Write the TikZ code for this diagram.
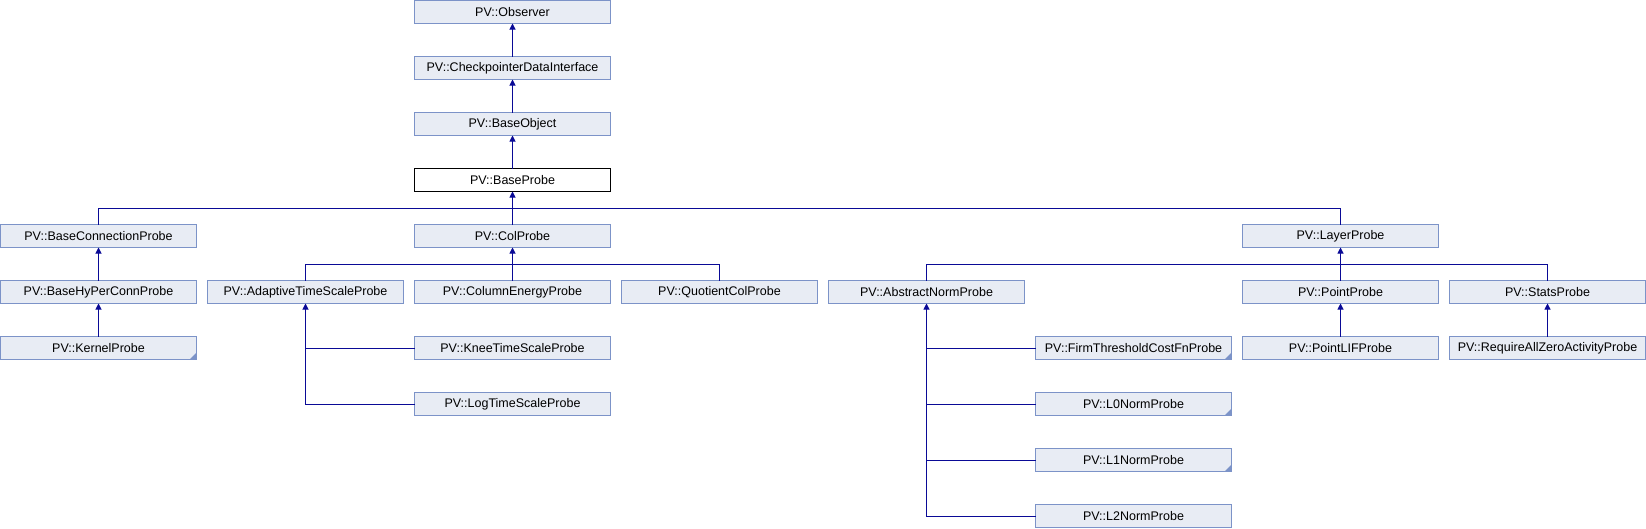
\documentclass[tikz,border=0pt]{standalone}
\usepackage{fontspec}
\setmainfont{Liberation Sans}
\usetikzlibrary{arrows.meta}
\definecolor{boxfill}{HTML}{E8ECF4}
\definecolor{boxline}{HTML}{7C93C8}
\definecolor{edgec}{HTML}{0A0A96}
\tikzset{
  cls/.style={draw=boxline, fill=boxfill, line width=1pt, minimum width=196pt, minimum height=23pt, inner sep=0pt, outer sep=0pt, font=\fontsize{12.5}{14}\selectfont, anchor=north west},
  cur/.style={cls, draw=black, fill=white},
  edge/.style={draw=edgec, line width=1pt},
  inh/.style={edge, -{Triangle[length=6pt,width=6pt]}},
  corner/.style={fill=boxline},
}
\newcommand{\mkcorner}[1]{\fill[corner] (#1.south east) -- ++(-7,0) -- ++(7,-7) -- cycle;}
\begin{document}
\begin{tikzpicture}[x=1pt,y=-1pt]
\useasboundingbox (0,0) rectangle (1646,528);
% rows: top = 56r+0.5 ; cols: left = 207c+0.5
\node[cls] (obs) at (414.5,0.5) {PV::Observer};
\node[cls] (cdi) at (414.5,56.5) {PV::CheckpointerDataInterface};
\node[cls] (bo)  at (414.5,112.5) {PV::BaseObject};
\node[cur] (bp)  at (414.5,168.5) {PV::BaseProbe};
\node[cls] (bcp) at (0.5,224.5) {PV::BaseConnectionProbe};
\node[cls] (colp) at (414.5,224.5) {PV::ColProbe};
\node[cls] (lp) at (1242.5,224.5) {PV::LayerProbe};
\node[cls] (bhp) at (0.5,280.5) {PV::BaseHyPerConnProbe};
\node[cls] (ats) at (207.5,280.5) {PV::AdaptiveTimeScaleProbe};
\node[cls] (cep) at (414.5,280.5) {PV::ColumnEnergyProbe};
\node[cls] (qcp) at (621.5,280.5) {PV::QuotientColProbe};
\node[cls] (anp) at (828.5,280.5) {PV::AbstractNormProbe};
\node[cls] (pp) at (1242.5,280.5) {PV::PointProbe};
\node[cls] (sp) at (1449.5,280.5) {PV::StatsProbe};
\node[cls] (kp) at (0.5,336.5) {PV::KernelProbe};
\node[cls] (knee) at (414.5,336.5) {PV::KneeTimeScaleProbe};
\node[cls] (ftc) at (1035.5,336.5) {PV::FirmThresholdCostFnProbe};
\node[cls] (plif) at (1242.5,336.5) {PV::PointLIFProbe};
\node[cls] (raz) at (1449.5,336.5) {PV::RequireAllZeroActivityProbe};
\node[cls] (log) at (414.5,392.5) {PV::LogTimeScaleProbe};
\node[cls] (l0) at (1035.5,392.5) {PV::L0NormProbe};
\node[cls] (l1) at (1035.5,448.5) {PV::L1NormProbe};
\node[cls] (l2) at (1035.5,504.5) {PV::L2NormProbe};
\mkcorner{kp}
\mkcorner{ftc}
\mkcorner{l0}
\mkcorner{l1}
% bars
\coordinate (barA) at (0,208);
\coordinate (barB) at (0,264);
% top chain
\draw[inh] (cdi.north) -- (obs.south);
\draw[inh] (bo.north) -- (cdi.south);
\draw[inh] (bp.north) -- (bo.south);
% BaseProbe children
\draw[edge] (bcp.north) |- (lp.north |- barA) -- (lp.north);
\draw[edge] (colp.north) -- (colp.north |- barA);
\draw[inh] (colp.north |- barA) -- (bp.south);
% ColProbe children
\draw[edge] (ats.north) |- (qcp.north |- barB) -- (qcp.north);
\draw[edge] (cep.north) -- (cep.north |- barB);
\draw[inh] (cep.north |- barB) -- (colp.south);
% LayerProbe children
\draw[edge] (anp.north) |- (sp.north |- barB) -- (sp.north);
\draw[edge] (pp.north) -- (pp.north |- barB);
\draw[inh] (pp.north |- barB) -- (lp.south);
% single chains
\draw[inh] (bhp.north) -- (bcp.south);
\draw[inh] (kp.north) -- (bhp.south);
\draw[inh] (plif.north) -- (pp.south);
\draw[inh] (raz.north) -- (sp.south);
% AdaptiveTimeScale children
\draw[inh] (log.west) -| (ats.south);
\draw[edge] (knee.west) -- (knee.west -| ats.south);
% AbstractNorm children
\draw[inh] (l2.west) -| (anp.south);
\draw[edge] (l1.west) -- (l1.west -| anp.south);
\draw[edge] (l0.west) -- (l0.west -| anp.south);
\draw[edge] (ftc.west) -- (ftc.west -| anp.south);
\end{tikzpicture}
\end{document}
